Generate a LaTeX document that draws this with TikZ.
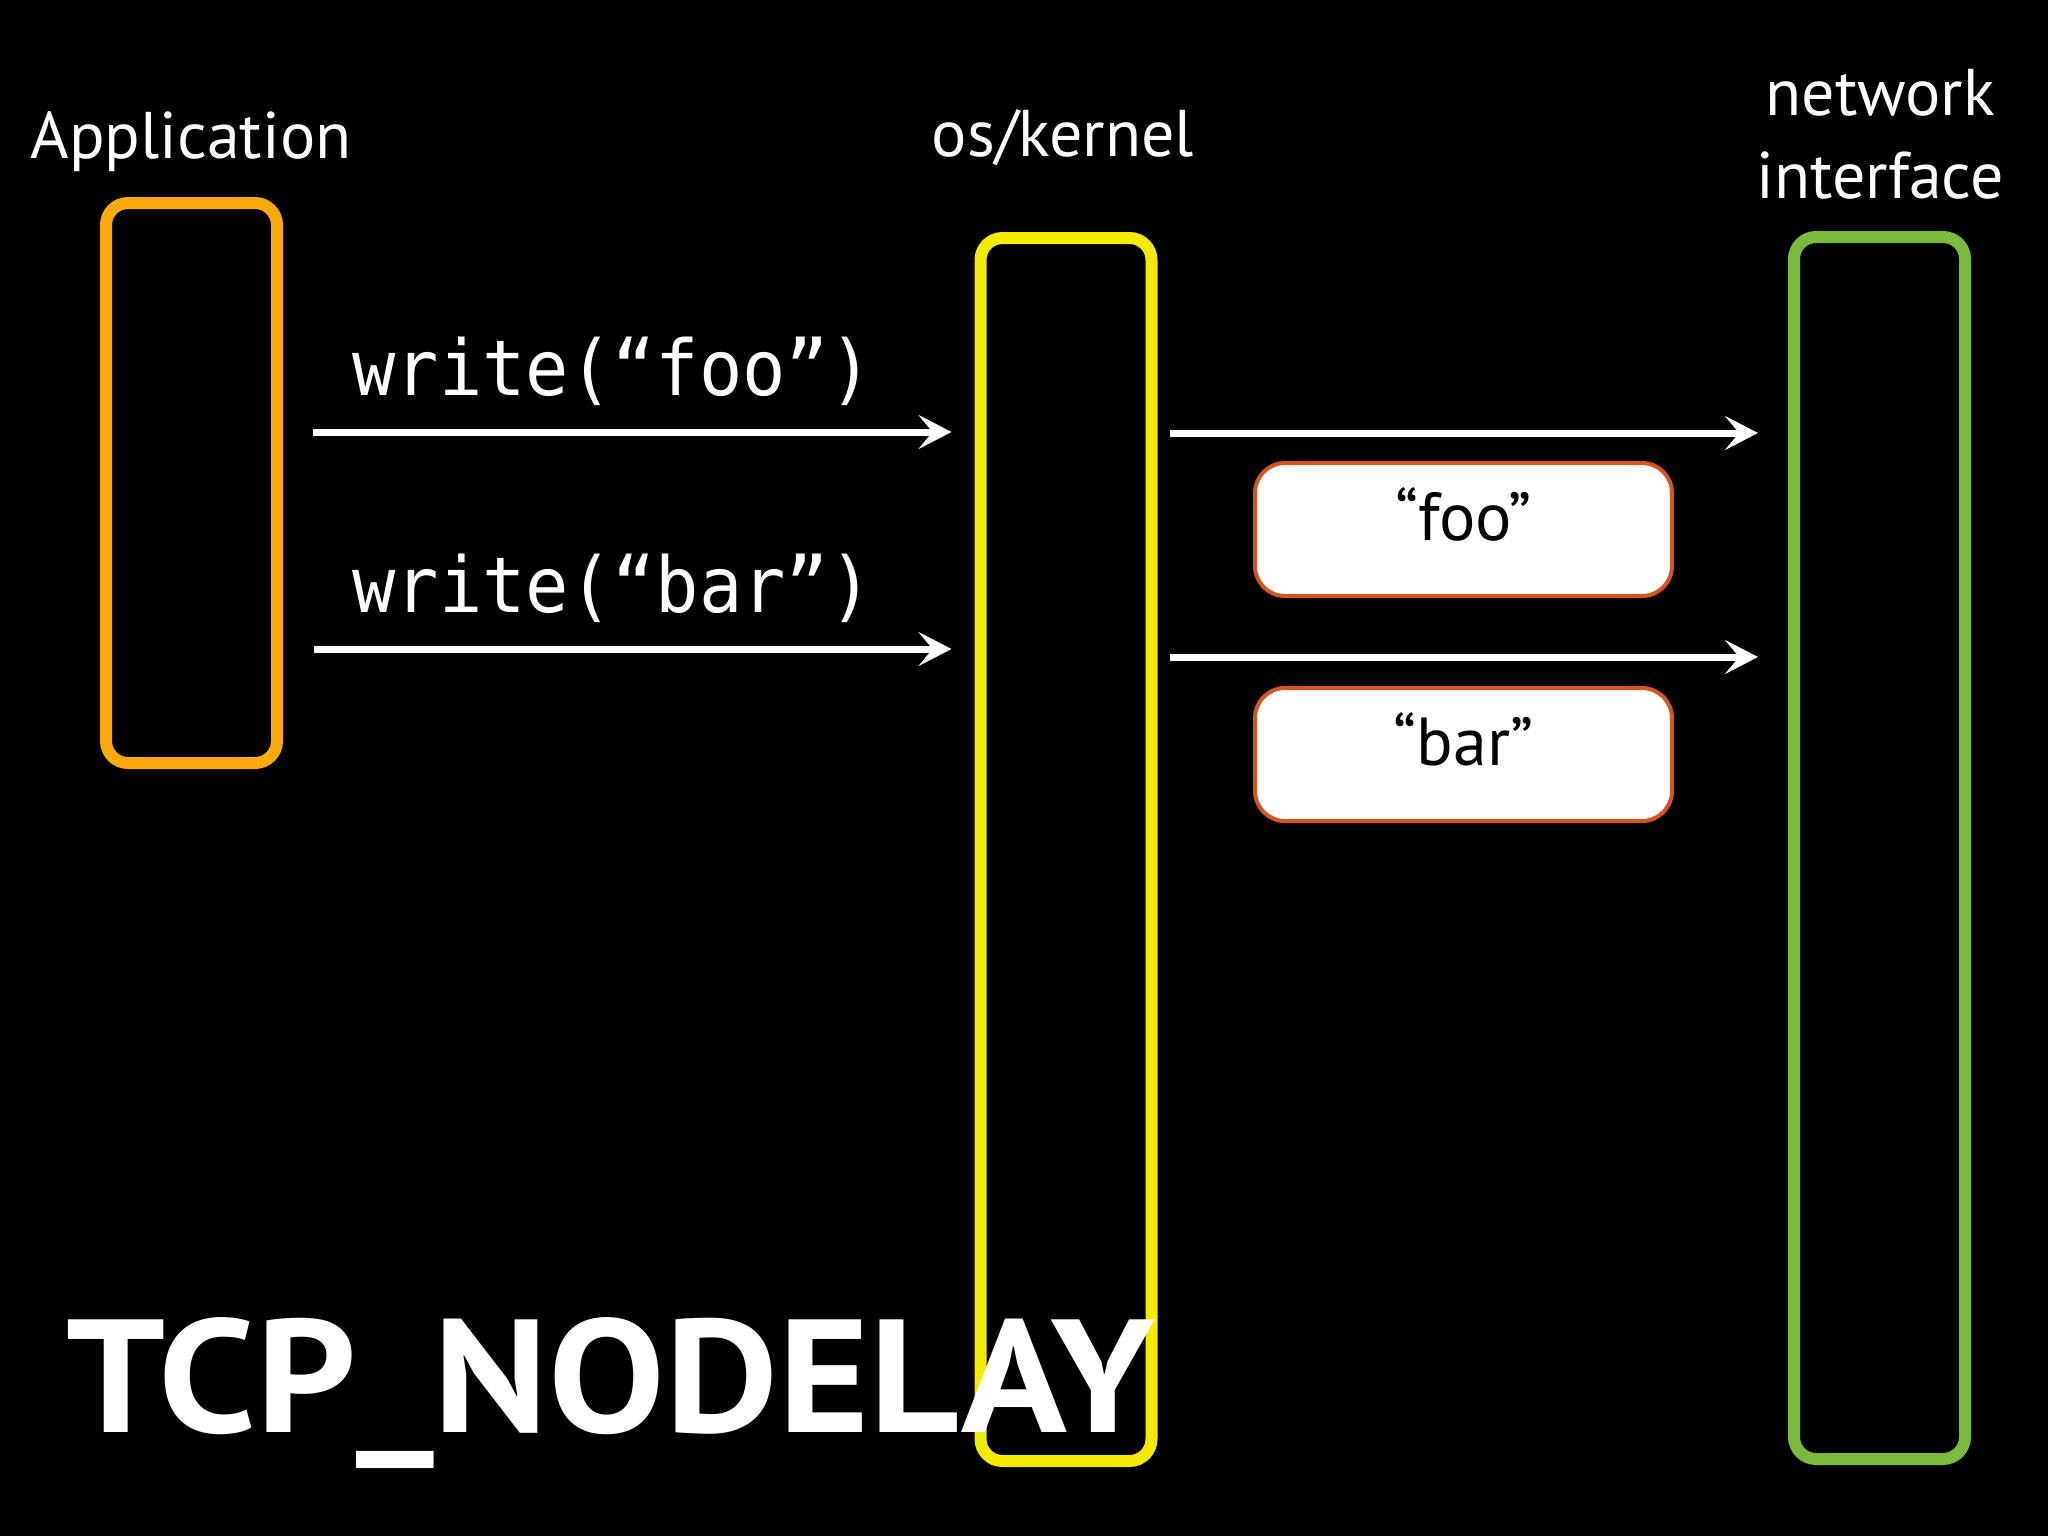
\documentclass[tikz,border=0pt]{standalone}
\usepackage{fontspec}
\setmainfont{PT Sans}
\newfontfamily\callfont[FakeStretch=0.935]{DejaVu Sans Mono}
\newfontfamily\titlefont[FakeStretch=1.085]{PT Sans Bold}
\usetikzlibrary{arrows.meta}
\definecolor{apporange}{RGB}{250,170,10}
\definecolor{kernyellow}{RGB}{245,235,0}
\definecolor{nicgreen}{RGB}{122,186,60}
\definecolor{pktborder}{RGB}{212,86,30}
\begin{document}
\begin{tikzpicture}[x=1pt,y=-1pt,
  lane/.style={draw, line width=12pt, rounded corners=22pt, minimum width=171pt, inner sep=0pt},
  heading/.style={text=white, font=\fontsize{66}{83}\selectfont, inner sep=0pt, anchor=base},
  call/.style={text=white, font=\callfont\fontsize{77}{90}\selectfont, inner sep=0pt, anchor=base},
  flow/.style={draw=white, line width=7pt, -{Stealth[length=33pt,width=34pt,inset=14pt]}},
  packet/.style={draw=pktborder, fill=white, line width=4pt, rounded corners=30pt, minimum width=417pt, minimum height=133pt, inner sep=0pt, text height=50pt, text depth=29pt, font=\fontsize{68}{80}\selectfont}
]
\fill[black] (0,0) rectangle (2048,1536);
\useasboundingbox (0,0) rectangle (2048,1536);

\node[lane, draw=apporange, minimum height=560pt] (app) at (191.5,483) {};
\node[lane, draw=kernyellow, minimum height=1223pt] (kernel) at (1066,849.5) {};
\node[lane, draw=nicgreen, minimum height=1222pt] (nic) at (1879.5,848) {};

\node[heading] (applbl) at (191,158) {Application};
\node[heading] (oslbl) at (1063,157) {os/kernel};
\node[heading, align=center] (niclbl) at (1880,198) {network\\interface};

\draw[flow, shorten <=30pt, shorten >=23pt] (app.east |- 0,432) -- (kernel.west |- 0,432);
\draw[flow, shorten <=31pt, shorten >=23pt] (app.east |- 0,649) -- (kernel.west |- 0,649);
\draw[flow, shorten <=12pt, shorten >=30pt] (kernel.east |- 0,433) -- (nic.west |- 0,433);
\draw[flow, shorten <=12pt, shorten >=30pt] (kernel.east |- 0,657) -- (nic.west |- 0,657);

\node[call] (wfoo) at (612.5,395) {write(“foo”)};
\node[call] (wbar) at (612.5,612) {write(“bar”)};

\node[packet] (pfoo) at (1463.5,529.5) {“foo”};
\node[packet] (pbar) at (1463.5,754.5) {“bar”};

\node[text=white, font=\titlefont\fontsize{161}{170}\selectfont, anchor=base west, inner sep=0pt] (title) at (66,1432) {TCP\_NODELAY};
\end{tikzpicture}
\end{document}
